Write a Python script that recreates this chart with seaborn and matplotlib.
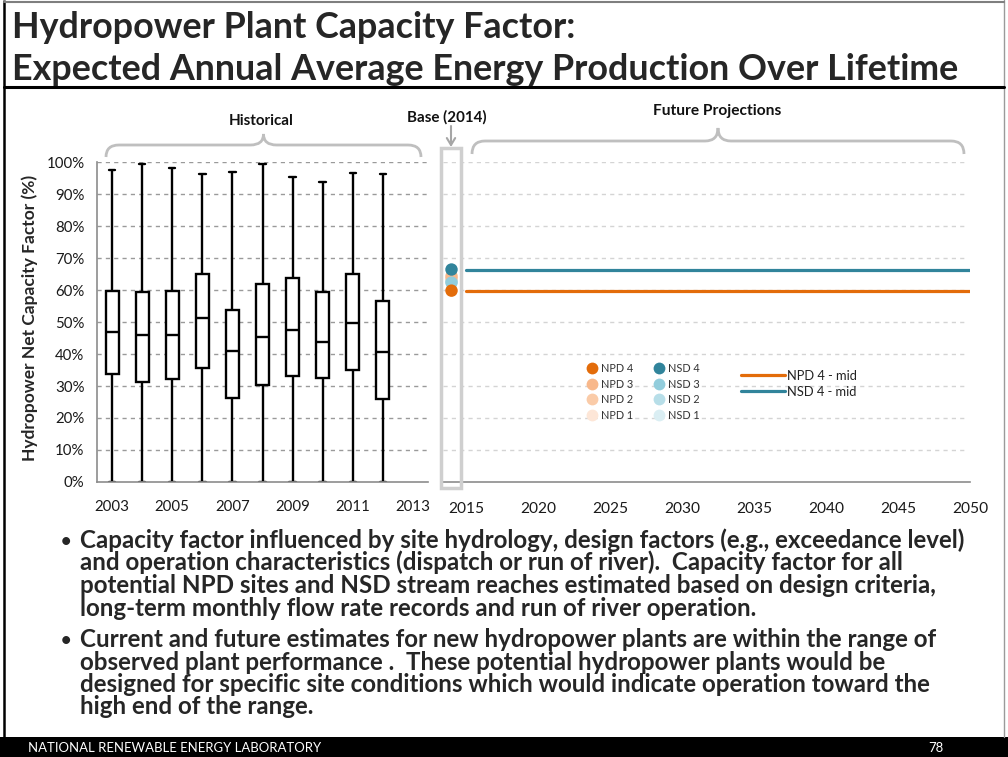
import numpy as np
import pandas as pd
import matplotlib
matplotlib.use("Agg")
import matplotlib.pyplot as plt
from matplotlib.patches import Rectangle, PathPatch, FancyArrowPatch
from matplotlib.path import Path
from matplotlib.lines import Line2D
import seaborn as sns

# ---- Historical capacity factor distribution (%), one box per year ----
box_years = ["2003", "2004", "2005", "2006", "2007", "2008", "2009", "2010", "2011", "2012"]
all_years = box_years + ["2013"]
cf_min = [0, 0, 0, 0, 0, 0, 0, 0, 0, 0]
cf_q1 = [33.7, 31.3, 32.1, 35.6, 26.2, 30.3, 33.2, 32.5, 34.9, 25.8]
cf_median = [47.0, 45.9, 45.9, 51.2, 41.0, 45.4, 47.5, 43.9, 49.7, 40.6]
cf_q3 = [59.7, 59.5, 59.8, 65.0, 53.9, 61.9, 63.7, 59.5, 65.1, 56.7]
cf_max = [97.6, 99.3, 98.0, 96.3, 97.0, 99.5, 95.3, 93.6, 96.7, 96.4]

# ---- Base year (2014) estimates ----
base_year = 2014
base_series = ["NPD 1", "NSD 1", "NPD 2", "NSD 2", "NPD 3", "NSD 3", "NSD 4", "NPD 4"]
base_values = [63.0, 63.0, 63.5, 62.6, 64.3, 62.3, 66.4, 59.8]

# ---- Future projections ----
proj_years = [2015, 2050]
npd4_mid = [59.8, 59.8]
nsd4_mid = [66.4, 66.4]

# ---- Text ----
title_lines = ["Hydropower Plant Capacity Factor:",
               "Expected Annual Average Energy Production Over Lifetime"]
bullet_1 = ["Capacity factor influenced by site hydrology, design factors (e.g., exceedance level)",
            "and operation characteristics (dispatch or run of river).  Capacity factor for all",
            "potential NPD sites and NSD stream reaches estimated based on design criteria,",
            "long-term monthly flow rate records and run of river operation."]
bullet_2 = ["Current and future estimates for new hydropower plants are within the range of",
            "observed plant performance .  These potential hydropower plants would be",
            "designed for specific site conditions which would indicate operation toward the",
            "high end of the range."]

colors = {
    "NPD 4": "#E36C0A", "NPD 3": "#F8B88B", "NPD 2": "#FACBA8", "NPD 1": "#FDE6D7",
    "NSD 4": "#31849B", "NSD 3": "#92CDDC", "NSD 2": "#B7DEE8", "NSD 1": "#DAEEF3",
}

sns.set_theme(style="white")
plt.rcParams["font.family"] = ["Lato", "DejaVu Sans"]
plt.rcParams["axes.facecolor"] = "white"

W, H = 1008, 757
fig = plt.figure(figsize=(W / 100, H / 100), dpi=100)
fig.patch.set_facecolor("white")


def px_axes(x0, y0, x1, y1):
    """Axes placed by pixel box (top-left origin)."""
    return fig.add_axes([x0 / W, 1 - y1 / H, (x1 - x0) / W, (y1 - y0) / H])


AX_TOP, AX_BOT = 162, 482
GRAY_AX = "#8c8c8c"

# ---------------- Historical panel ----------------
ax1 = px_axes(97, AX_TOP, 428, AX_BOT)
rows = []
for y, a, b, c, d, e in zip(box_years, cf_min, cf_q1, cf_median, cf_q3, cf_max):
    for v in (a, b, c, d, e):
        rows.append({"year": y, "cf": v})
hist = pd.DataFrame(rows)
sns.boxplot(data=hist, x="year", y="cf", order=all_years, color="white",
            linecolor="black", linewidth=1.7, width=0.43, whis=np.inf,
            showfliers=False, ax=ax1)
ax1.set_xlim(-0.5, len(all_years) - 0.5)
ax1.set_ylim(0, 100)
ax1.set_xlabel("")
ax1.set_ylabel("")
ax1.set_yticks(np.arange(0, 101, 10))
ax1.set_yticklabels([f"{v}%" for v in range(0, 101, 10)], fontsize=10.8, color="#1a1a1a")
ax1.set_xticks(np.arange(-0.5, len(all_years), 1.0))
ax1.set_xticklabels([])
ax1.set_xticks(np.arange(0, len(all_years), 2), minor=True)
ax1.set_xticklabels(all_years[::2], minor=True, fontsize=10.8, color="#1a1a1a")
ax1.tick_params(axis="x", which="major", direction="out", length=5, width=1, color=GRAY_AX)
ax1.tick_params(axis="x", which="minor", length=0, pad=13)
ax1.tick_params(axis="y", direction="out", length=5, width=1, color=GRAY_AX, pad=4)
for s in ("top", "right"):
    ax1.spines[s].set_visible(False)
for s in ("left", "bottom"):
    ax1.spines[s].set_color(GRAY_AX)
    ax1.spines[s].set_linewidth(1.2)
for v in range(10, 101, 10):
    ax1.axhline(v, color="#9a9a9a", lw=1.0, ls=(0, (3, 3)), zorder=0)

# ---------------- Projection panel ----------------
ax2 = px_axes(441, AX_TOP, 970, AX_BOT)
ax2.set_xlim(2013.27, 2050)
ax2.set_ylim(0, 100)
for v in range(10, 101, 10):
    ax2.plot([2013.4, 2049.7], [v, v], color="#d4d4d4", lw=1.0, ls=(0, (3, 3)), zorder=0)

proj = pd.DataFrame({
    "year": proj_years + proj_years,
    "cf": npd4_mid + nsd4_mid,
    "series": ["NPD 4 - mid"] * len(proj_years) + ["NSD 4 - mid"] * len(proj_years),
})
sns.lineplot(data=proj, x="year", y="cf", hue="series",
             palette={"NPD 4 - mid": colors["NPD 4"], "NSD 4 - mid": colors["NSD 4"]},
             linewidth=2.3, legend=False, ax=ax2)

base = pd.DataFrame({"year": [base_year] * len(base_series), "cf": base_values,
                     "series": base_series})
for _, r in base.iterrows():
    sns.scatterplot(x=[r["year"]], y=[r["cf"]], color=colors[r["series"]], s=80,
                    edgecolor="none", legend=False, ax=ax2, zorder=5, clip_on=False)

ax2.set_xlabel("")
ax2.set_ylabel("")
ax2.set_yticks([])
ax2.set_xticks(np.arange(2015, 2051, 5))
ax2.set_xticklabels([str(y) for y in range(2015, 2051, 5)], fontsize=11.2, color="#1a1a1a")
ax2.set_xticks(np.arange(2014, 2051, 1), minor=True)
ax2.tick_params(axis="x", which="major", direction="inout", length=9, width=1, color=GRAY_AX, pad=10)
ax2.tick_params(axis="x", which="minor", direction="in", length=4, width=1, color=GRAY_AX)
for s in ("top", "right", "left"):
    ax2.spines[s].set_visible(False)
ax2.spines["bottom"].set_color(GRAY_AX)
ax2.spines["bottom"].set_linewidth(1.2)

# Legends
dot_order = ["NPD 4", "NPD 3", "NPD 2", "NPD 1", "NSD 4", "NSD 3", "NSD 2", "NSD 1"]
dot_handles = [Line2D([], [], ls="none", marker="o", markersize=8.5,
                      markerfacecolor=colors[k], markeredgecolor="none") for k in dot_order]
leg1 = ax2.legend(dot_handles, dot_order, ncol=2, loc="upper left",
                  bbox_to_anchor=(587 / W, 1 - 363 / H), bbox_transform=fig.transFigure,
                  frameon=False, fontsize=7.8, handlelength=0.9, handletextpad=0.35,
                  columnspacing=2.0, labelspacing=0.42, borderpad=0, borderaxespad=0,
                  labelcolor="#333333")
ax2.add_artist(leg1)
line_handles = [Line2D([], [], color=colors["NPD 4"], lw=2.3),
                Line2D([], [], color=colors["NSD 4"], lw=2.3)]
ax2.legend(line_handles, ["NPD 4 - mid", "NSD 4 - mid"], loc="upper left",
           bbox_to_anchor=(741 / W, 1 - 370 / H), bbox_transform=fig.transFigure,
           frameon=False, fontsize=9.3, handlelength=3.4, handletextpad=0.15,
           labelspacing=0.3, borderpad=0, borderaxespad=0, labelcolor="#222222")

# ---------------- Slide furniture (pixel coordinates) ----------------
ov = fig.add_axes([0, 0, 1, 1])
ov.set_xlim(0, W)
ov.set_ylim(H, 0)
ov.axis("off")
ov.patch.set_alpha(0)

renderer = fig.canvas.get_renderer()


def fit_width(t, target, rotated=False):
    ext = t.get_window_extent(renderer)
    w = ext.height if rotated else ext.width
    t.set_fontsize(t.get_fontsize() * target / w)
    return t


# frame
ov.plot([4, 4], [0, 737], color="black", lw=1.8, solid_capstyle="butt")
ov.plot([1004, 1004], [0, 737], color="#9a9a9a", lw=1.0)
ov.plot([4, 1004], [2, 2], color="#7f7f7f", lw=1.5)
ov.plot([4, 1004], [87, 87], color="black", lw=2.2)
ov.add_patch(Rectangle((0, 737), W, 20, facecolor="black", edgecolor="none"))

# title
t2 = ov.text(12, 80, title_lines[1], fontsize=24, fontweight="bold", va="baseline", ha="left")
fit_width(t2, 948)
ov.text(12, 38, title_lines[0], fontsize=t2.get_fontsize(), fontweight="bold",
        va="baseline", ha="left")

# y axis label
yl = ov.text(30, 318, "Hydropower Net Capacity Factor (%)", rotation=90, fontsize=9.5,
             fontweight="bold", ha="center", va="center")
fit_width(yl, 287, rotated=True)

# section labels
for txt, x, y, wd in [("Historical", 261, 121, 65), ("Base (2014)", 447, 117, 80),
                      ("Future Projections", 717, 111, 128)]:
    st = ov.text(x, y, txt, fontsize=10, fontweight="bold", ha="center", va="center",
                 color="#111111")
    fit_width(st, wd)


def brace(x0, x1, yb, yt, ypk, r=13):
    xm = (x0 + x1) / 2
    verts = [(x0, yb), (x0, yt), (x0 + r, yt),
             (xm - r, yt),
             (xm, yt), (xm, ypk),
             (xm, yt), (xm + r, yt),
             (x1 - r, yt),
             (x1, yt), (x1, yb)]
    codes = [Path.MOVETO, Path.CURVE3, Path.CURVE3,
             Path.LINETO,
             Path.CURVE3, Path.CURVE3,
             Path.CURVE3, Path.CURVE3,
             Path.LINETO,
             Path.CURVE3, Path.CURVE3]
    ov.add_patch(PathPatch(Path(verts, codes), facecolor="none", edgecolor="#bfbfbf", lw=2.0))


brace(106, 421, 157, 145, 134)
brace(472, 964, 154, 141, 128)

# base year box and arrow
ov.add_patch(Rectangle((441, 148), 20, 340, facecolor="none", edgecolor="#cfcfcf", lw=2.5))
ov.add_patch(FancyArrowPatch((451, 126), (451, 147), arrowstyle="->,head_length=5,head_width=3",
                             color="#a6a6a6", lw=1.5, shrinkA=0, shrinkB=0))

# bullets
b_base = [548, 570.5, 593, 615.5]
b_base2 = [647, 669.5, 692, 714.5]
t0 = ov.text(80, b_base[0], bullet_1[0], fontsize=15, fontweight="bold", va="baseline", ha="left")
fit_width(t0, 888)
fs = t0.get_fontsize()
for lines, ys in [(bullet_1, b_base), (bullet_2, b_base2)]:
    ov.text(61, ys[0] - 1, "\u2022", fontsize=fs * 0.75, fontweight="bold", va="baseline", ha="left")
    for i, (ln, yy) in enumerate(zip(lines, ys)):
        if lines is bullet_1 and i == 0:
            continue
        ov.text(80, yy, ln, fontsize=fs, fontweight="bold", va="baseline", ha="left")

# footer
ft = ov.text(28, 748, "NATIONAL RENEWABLE ENERGY LABORATORY", fontsize=8, color="white",
             va="center", ha="left")
fit_width(ft, 290)
ov.text(936, 748, "78", fontsize=ft.get_fontsize(), color="white", va="center", ha="center")

fig.savefig("out.png", dpi=100)
